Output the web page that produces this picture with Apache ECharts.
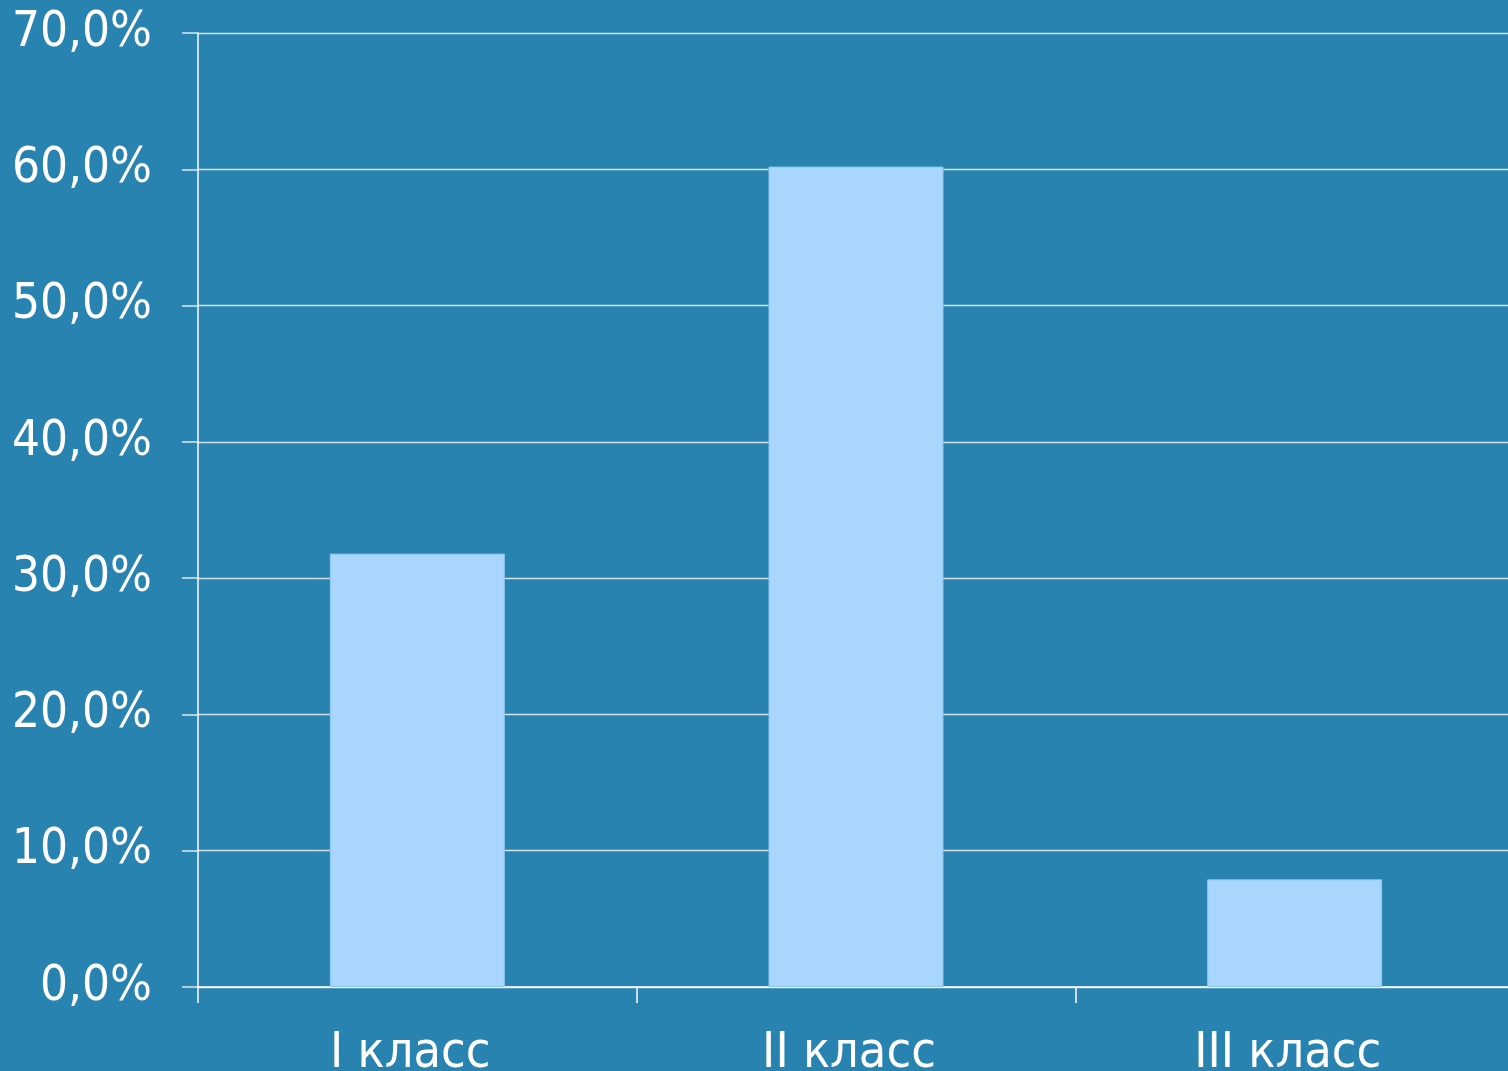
<!DOCTYPE html>
<html><head><meta charset="utf-8">
<script src="https://cdn.jsdelivr.net/npm/echarts@6/dist/echarts.min.js"></script>
<style>html,body{margin:0;padding:0;background:#2983B1;}#c{width:1508px;height:1071px;}</style>
</head><body><div id="c"></div>
<script>
const categories = ['I класс', 'II класс', 'III класс'];
const values = [31.8, 60.2, 7.9];
const yTicks = { min: 0, max: 70, interval: 10 };

const font = '"DejaVu Sans Condensed", "DejaVu Sans", sans-serif';
const chart = echarts.init(document.getElementById('c'));
chart.setOption({
  backgroundColor: '#2983B1',
  animation: false,
  grid: { left: 198, width: 1316, top: 33, height: 954, containLabel: false, outerBoundsMode: 'none' },
  xAxis: {
    type: 'category', data: categories,
    axisLine: { lineStyle: { color: '#ffffff', width: 1.5 } },
    axisTick: { show: true, length: 16, lineStyle: { color: '#ffffff', width: 1.5 } },
    axisLabel: { color: '#ffffff', fontFamily: font, fontSize: 50, margin: 42, padding: [0, 14, 0, 0] }
  },
  yAxis: {
    type: 'value', min: yTicks.min, max: yTicks.max, interval: yTicks.interval,
    axisLine: { show: true, lineStyle: { color: '#ffffff', width: 1.5 } },
    axisTick: { show: true, length: 16, lineStyle: { color: '#dde6ee', width: 1.5 } },
    splitLine: { show: true, lineStyle: { color: '#d4dfe8', width: 1.3 } },
    axisLabel: { color: '#ffffff', fontFamily: font, fontSize: 49, margin: 46, padding: [14, 0, 0, 0],
      formatter: v => v.toFixed(1).replace('.', ',') + '%' }
  },
  series: [{
    type: 'bar', data: values, barWidth: 175,
    itemStyle: { color: '#A9D6FD', borderColor: '#8fc3ee', borderWidth: 1 }
  }]
});
</script></body></html>
